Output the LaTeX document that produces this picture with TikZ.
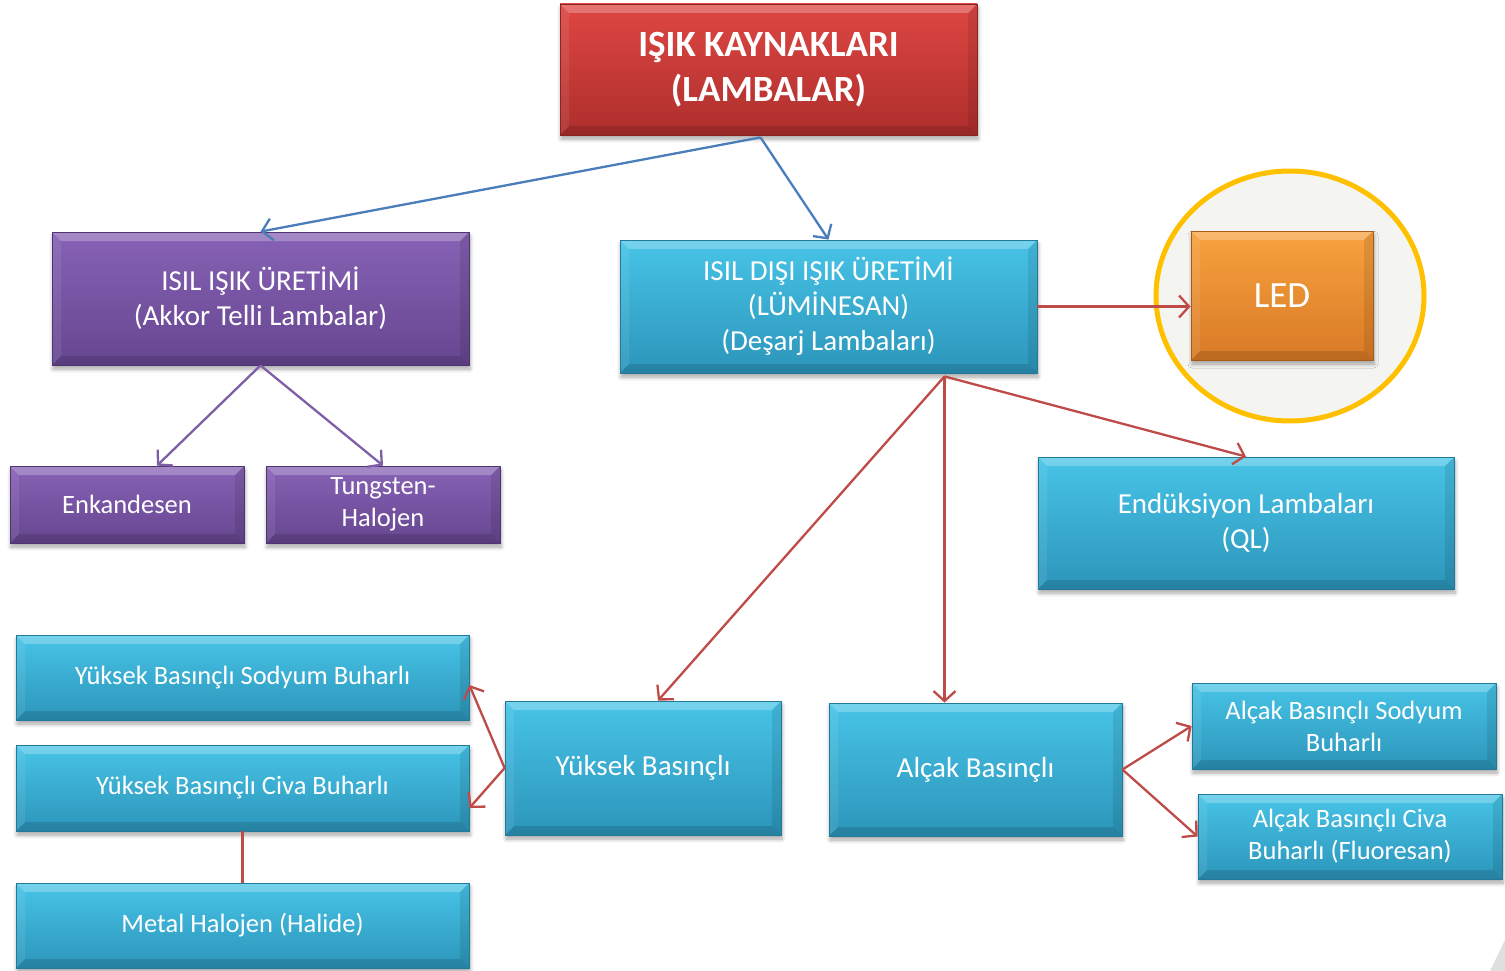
\documentclass[tikz,border=0pt]{standalone}
\usepackage{fontspec}
\setmainfont{Carlito}
\usetikzlibrary{arrows.meta,shadows,shadows.blur,calc}
\definecolor{cyT}{HTML}{47C4E7}
\definecolor{cyB}{HTML}{2C95BA}
\definecolor{cyD}{HTML}{23799A}
\definecolor{puT}{HTML}{8762B5}
\definecolor{puB}{HTML}{664690}
\definecolor{puD}{HTML}{4E3570}
\definecolor{reT}{HTML}{DE4743}
\definecolor{reB}{HTML}{AE2E2C}
\definecolor{reD}{HTML}{8A2422}
\definecolor{orT}{HTML}{F7A23E}
\definecolor{orB}{HTML}{D97A26}
\definecolor{orD}{HTML}{A55B1A}
\definecolor{arBlue}{HTML}{4A7EBB}
\definecolor{arRed}{HTML}{BE4B48}
\definecolor{arPur}{HTML}{7E5FA5}
\definecolor{ledRing}{HTML}{FFC000}
\definecolor{ledFill}{HTML}{F4F5F0}
\tikzset{
  bevel/.style={path picture={
    \coordinate (nw) at (path picture bounding box.north west);
    \coordinate (ne) at (path picture bounding box.north east);
    \coordinate (sw) at (path picture bounding box.south west);
    \coordinate (se) at (path picture bounding box.south east);
    \fill[white,opacity=.25] (nw) -- (ne) -- ([shift={(-9pt,-9pt)}]ne) -- ([shift={(9pt,-9pt)}]nw) -- cycle;
    \fill[black,opacity=.13] (sw) -- (se) -- ([shift={(-9pt,9pt)}]se) -- ([shift={(9pt,9pt)}]sw) -- cycle;
    \fill[white,opacity=.08] (nw) -- ([shift={(9pt,-9pt)}]nw) -- ([shift={(9pt,9pt)}]sw) -- (sw) -- cycle;
    \fill[black,opacity=.09] (ne) -- ([shift={(-9pt,-9pt)}]ne) -- ([shift={(-9pt,9pt)}]se) -- (se) -- cycle;
  }},
  box/.style n args={3}{rectangle, top color=#1, bottom color=#2, draw=#3,
    line width=0.8pt, text=white, align=center, inner sep=0pt,
    blur shadow={shadow xshift=1pt, shadow yshift=-4pt, shadow blur steps=6, shadow blur radius=4pt, shadow opacity=35}, bevel},
  cybox/.style={box={cyT}{cyB}{cyD}},
  pubox/.style={box={puT}{puB}{puD}},
  rebox/.style={box={reT}{reB}{reD}},
  orbox/.style={box={orT}{orB}{orD}},
  arr/.style={-{Straight Barb[length=10pt,width=22pt]}, line width=2.3pt},
  big/.style={font=\fontsize{29}{35}\selectfont},
  mid/.style={font=\fontsize{26.5}{32}\selectfont},
  sml/.style={font=\fontsize{26.5}{32}\selectfont},
}
\begin{document}
\begin{tikzpicture}[x=1pt,y=-1pt]
\useasboundingbox (0,0) rectangle (1505,971);
\fill[gray!25] (1490,971) -- (1505,940) -- (1505,971) -- cycle;
% LED ring
\draw[fill=ledFill, draw=ledRing, line width=5pt] (1290,296) ellipse [x radius=134, y radius=125];
% nodes
\node[rebox, minimum width=417pt, minimum height=131pt, font=\bfseries\fontsize{37}{45}\selectfont] (root) at (768.5,69.5) {IŞIK KAYNAKLARI\\(LAMBALAR)};
\node[pubox, big, minimum width=417pt, minimum height=133pt] (isil) at (260.5,298.5) {ISIL IŞIK ÜRETİMİ\\(Akkor Telli Lambalar)};
\node[cybox, big, minimum width=417pt, minimum height=133pt] (disi) at (828.5,306.5) {ISIL DIŞI IŞIK ÜRETİMİ\\(LÜMİNESAN)\\(Deşarj Lambaları)};
\node[orbox, minimum width=182pt, minimum height=129pt, font=\fontsize{37}{44}\selectfont] (led) at (1282,295.5) {LED};
\node[pubox, mid, minimum width=234pt, minimum height=77pt] (enk) at (127,504.5) {Enkandesen};
\node[pubox, mid, minimum width=234pt, minimum height=77pt] (tung) at (383,504.5) {Tungsten-\\Halojen};
\node[cybox, big, minimum width=416pt, minimum height=132pt] (endu) at (1246,523) {Endüksiyon Lambaları\\(QL)};
\node[cybox, sml, minimum width=453pt, minimum height=85pt] (ybsb) at (242.5,677.5) {Yüksek Basınçlı Sodyum Buharlı};
\node[cybox, sml, minimum width=453pt, minimum height=86pt] (ybcb) at (242.5,788) {Yüksek Basınçlı Civa Buharlı};
\node[cybox, sml, minimum width=453pt, minimum height=85pt] (metal) at (242.5,925.5) {Metal Halojen (Halide)};
\node[cybox, big, minimum width=276pt, minimum height=134pt] (yb) at (643,768) {Yüksek Basınçlı};
\node[cybox, big, minimum width=293pt, minimum height=133pt] (ab) at (975.5,769.5) {Alçak Basınçlı};
\node[cybox, sml, minimum width=304pt, minimum height=86pt] (absb) at (1344,726) {Alçak Basınçlı Sodyum\\Buharlı};
\node[cybox, sml, minimum width=304pt, minimum height=85pt] (abcb) at (1350,836.5) {Alçak Basınçlı Civa\\Buharlı (Fluoresan)};
% connectors
\coordinate (rs) at ([xshift=-8pt,yshift=-2pt]root.south);
\draw[arr, arBlue] (rs) -- (isil.north);
\draw[arr, arBlue] (rs) -- (disi.north);
\draw[arr, arPur] (isil.south) -- ([xshift=30pt]enk.north);
\draw[arr, arPur] (isil.south) -- (tung.north);
\draw[arr, arRed] (disi.east) -- (disi.east -| led.west);
\coordinate (ds) at ([xshift=116pt,yshift=-3pt]disi.south);
\draw[arr, arRed] (ds) -- (endu.north);
\draw[arr, arRed] (ds) -- ([xshift=15pt]yb.north);
\draw[arr, arRed] (ds) -- (ds |- ab.north);
\draw[arr, arRed] (yb.west) -- ([yshift=-7.5pt]ybsb.east);
\draw[arr, arRed] (yb.west) -- ([yshift=-20pt]ybcb.east);
\draw[arRed, line width=2.3pt] (ybcb.south) -- (metal.north);
\draw[arr, arRed] (ab.east) -- (absb.west);
\draw[arr, arRed] (ab.east) -- (abcb.west);
\end{tikzpicture}
\end{document}
